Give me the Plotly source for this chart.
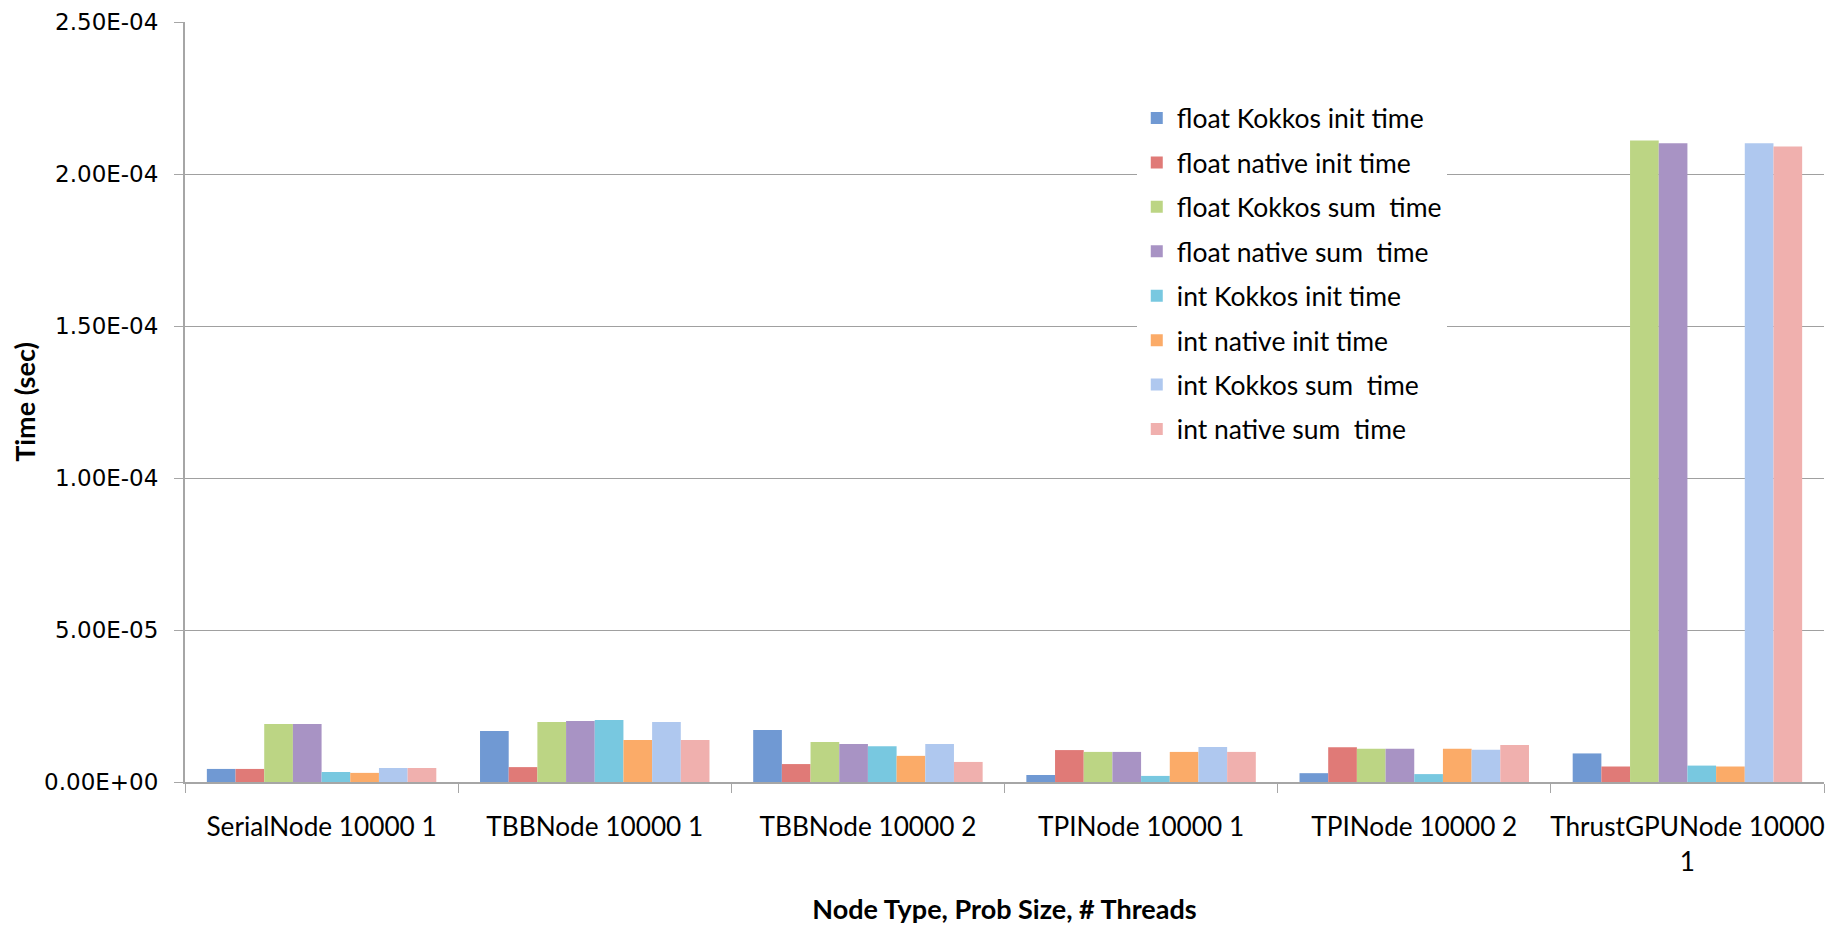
import plotly.graph_objects as go

categories = ["SerialNode 10000 1", "TBBNode 10000 1", "TBBNode 10000 2",
              "TPINode 10000 1", "TPINode 10000 2", "ThrustGPUNode 10000<br>1"]

series_names = ["float Kokkos init time", "float native init time",
                "float Kokkos sum\u00a0 time", "float native sum\u00a0 time",
                "int Kokkos init time", "int native init time",
                "int Kokkos sum\u00a0 time", "int native sum\u00a0 time"]

float_kokkos_init = [4.3e-6, 16.8e-6, 17.1e-6, 2.3e-6, 2.9e-6, 9.4e-6]
float_native_init = [4.3e-6, 4.9e-6, 5.9e-6, 10.5e-6, 11.4e-6, 5.1e-6]
float_kokkos_sum = [19.1e-6, 19.7e-6, 13.2e-6, 9.9e-6, 10.9e-6, 211.0e-6]
float_native_sum = [19.1e-6, 20.1e-6, 12.5e-6, 9.9e-6, 10.9e-6, 210.1e-6]
int_kokkos_init = [3.3e-6, 20.4e-6, 11.8e-6, 2.0e-6, 2.6e-6, 5.4e-6]
int_native_init = [3.0e-6, 13.8e-6, 8.6e-6, 9.9e-6, 10.9e-6, 5.1e-6]
int_kokkos_sum = [4.6e-6, 19.7e-6, 12.5e-6, 11.5e-6, 10.6e-6, 210.1e-6]
int_native_sum = [4.6e-6, 13.8e-6, 6.6e-6, 9.9e-6, 12.2e-6, 209.1e-6]

series_values = [float_kokkos_init, float_native_init, float_kokkos_sum, float_native_sum,
                 int_kokkos_init, int_native_init, int_kokkos_sum, int_native_sum]

colors = ["#7099d3", "#e07a77", "#bcd584", "#a893c4",
          "#78c8e0", "#fbab68", "#afc8ef", "#f0b0ae"]

y_tick_vals = [0, 5e-5, 1e-4, 1.5e-4, 2e-4, 2.5e-4]
y_tick_text = ["0.00E+00", "5.00E-05", "1.00E-04", "1.50E-04", "2.00E-04", "2.50E-04"]

fig = go.Figure()
for i, (name, vals) in enumerate(zip(series_names, series_values)):
    fig.add_trace(go.Bar(
        x=categories, y=vals, name=name,
        marker=dict(color=colors[i], line=dict(width=0)),
        legendgroup=f"g{i}",
    ))

fig.update_layout(
    width=1837, height=917,
    barmode="group", bargap=0.16, bargroupgap=0,
    plot_bgcolor="white", paper_bgcolor="white",
    margin=dict(l=177, r=21, t=14, b=143, autoexpand=False),
    font=dict(family="Lato", size=22, color="#000000"),
    legend=dict(
        x=0.5807, y=0.905, xanchor="left", yanchor="top",
        bgcolor="white", borderwidth=0,
        font=dict(family="Lato", size=26.5, color="#000000"),
        tracegroupgap=7,
        traceorder="grouped",
    ),
    xaxis=dict(
        automargin=False,
        showline=True, linecolor="#a6a6a6", linewidth=2,
        ticks="outside", tickson="boundaries", ticklen=9, tickcolor="#a6a6a6", tickwidth=1,
        tickfont=dict(family="Lato", size=26.2, color="#000000"),
        ticklabelstandoff=21,
        title=dict(text="<b>Node Type, Prob Size, # Threads</b>",
                   font=dict(family="Lato", size=27, color="#000000"), standoff=26),
        tickangle=0,
    ),
    yaxis=dict(
        automargin=False,
        range=[0, 2.5002e-4],
        tickvals=y_tick_vals, ticktext=y_tick_text,
        ticklabeloverflow="allow",
        showline=True, linecolor="#a6a6a6", linewidth=2,
        ticks="outside", ticklen=9, tickcolor="#a6a6a6", tickwidth=1,
        showgrid=True, gridcolor="#a0a0a0", gridwidth=1,
        zeroline=False,
        ticklabelstandoff=11,
        tickfont=dict(family="DejaVu Sans", size=23, color="#000000"),
        title=dict(text="<b>Time (sec)</b>",
                   font=dict(family="Lato", size=27, color="#000000"), standoff=12),
    ),
)

fig.write_html("out.html")
